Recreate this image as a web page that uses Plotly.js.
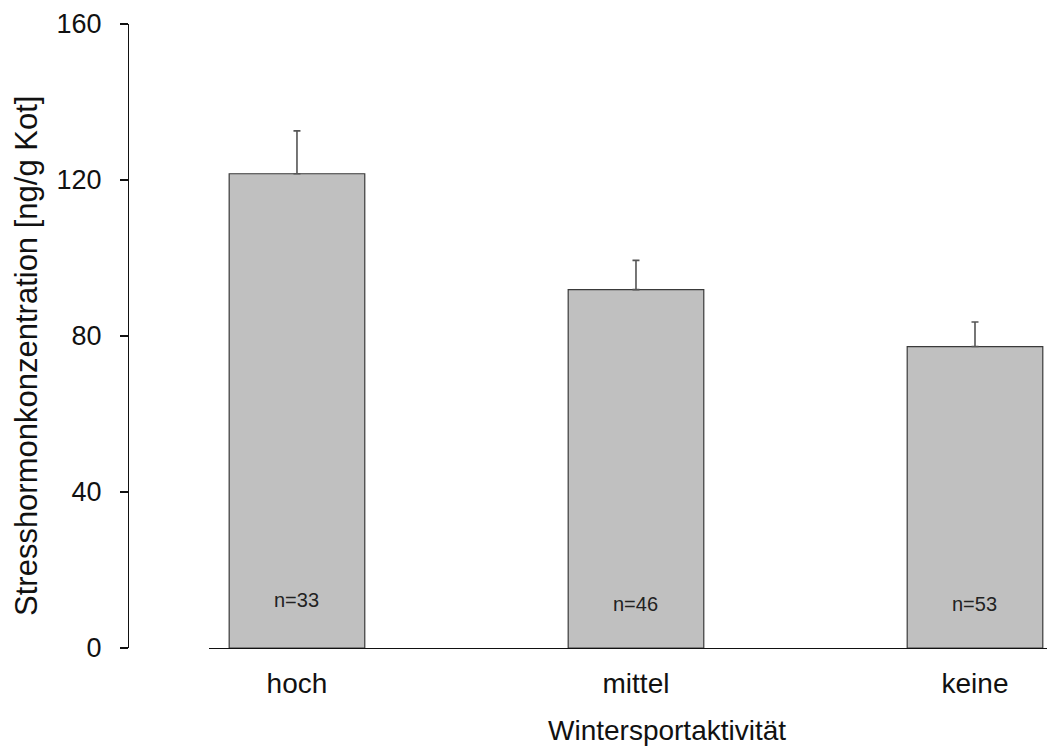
<!DOCTYPE html>
<html>
<head>
<meta charset="utf-8">
<script src="https://cdn.plot.ly/plotly-3.0.1.min.js"></script>
<style>html,body{margin:0;padding:0;background:#fff;}#chart{width:1047px;height:746px;}</style>
</head>
<body>
<div id="chart"></div>
<script>
const categories = ["hoch", "mittel", "keine"];
const meanValues = [121.6, 91.9, 77.3];
const errorValues = [11.0, 7.5, 6.3];
const nLabels = ["n=33", "n=46", "n=53"];
const nLabelY = [12.4, 11.4, 11.4];
const yTicks = [0, 40, 80, 120, 160];

const xIdx = categories.map((c, i) => i);
const font = "Liberation Sans, Arial, sans-serif";

const trace = {
  type: "bar",
  x: xIdx,
  y: meanValues,
  width: 0.40,
  marker: {color: "#c0c0c0", line: {color: "#3a3a3a", width: 1.2}},
  error_y: {type: "data", array: errorValues, symmetric: false, arrayminus: errorValues.map(() => 0),
            visible: true, color: "#555555", thickness: 1.6, width: 3.5},
  hoverinfo: "none"
};

const annotations = nLabels.map((t, i) => ({
  x: xIdx[i], y: nLabelY[i], xref: "x", yref: "y", text: t, showarrow: false,
  font: {family: font, size: 20, color: "#222"}
}));
annotations.push({
  xref: "paper", yref: "paper", x: 0.5865, y: -0.133, yanchor: "middle", xanchor: "center",
  text: "Wintersportaktivität", showarrow: false, font: {family: font, size: 28, color: "#111"}
});
annotations.push({
  xref: "paper", yref: "paper", x: -0.1099, y: 0.468, xanchor: "center", yanchor: "middle", textangle: -90,
  text: "Stresshormonkonzentration [ng/g Kot]", showarrow: false, font: {family: font, size: 31, color: "#111"}
});

const layout = {
  width: 1047, height: 746,
  margin: {l: 128, r: 0, t: 24, b: 98},
  paper_bgcolor: "#fff", plot_bgcolor: "#fff",
  showlegend: false,
  xaxis: {
    domain: [0.0881, 1],
    range: [-0.2596, 2.2124],
    tickvals: xIdx, ticktext: categories,
    showline: true, linecolor: "#111", linewidth: 1.3,
    ticks: "", showgrid: false, zeroline: false,
    ticklabelstandoff: 10,
    tickfont: {family: font, size: 28, color: "#111"}
  },
  yaxis: {
    anchor: "free", position: 0,
    range: [0, 160], tickvals: yTicks,
    showline: true, linecolor: "#111", linewidth: 1.3,
    ticks: "outside", ticklen: 8, tickwidth: 1.3, tickcolor: "#111",
    showgrid: false, zeroline: false,
    ticklabelstandoff: 13,
    tickfont: {family: font, size: 27, color: "#111"}
  },
  annotations: annotations
};

Plotly.newPlot("chart", [trace], layout, {displayModeBar: false, staticPlot: true});
</script>
</body>
</html>
